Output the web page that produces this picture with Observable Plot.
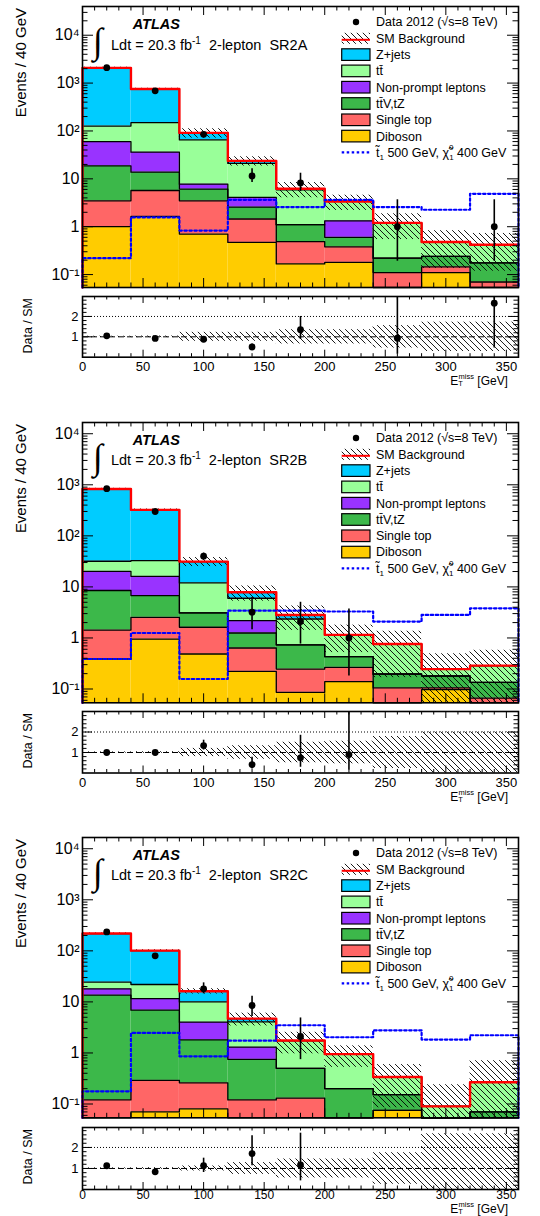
<!DOCTYPE html>
<html><head><meta charset="utf-8">
<script src="https://cdn.jsdelivr.net/npm/d3@7"></script>
<script src="https://cdn.jsdelivr.net/npm/@observablehq/plot@0.6"></script>
<style>
body{margin:0;background:#fff;}
#root{position:relative;width:540px;height:1216px;overflow:hidden;background:#fff;}
#root svg{overflow:visible}
</style></head><body><div id="root">
<svg width="0" height="0" style="position:absolute;left:0;top:0">
<defs><pattern id="hatch" patternUnits="userSpaceOnUse" width="6" height="6">
<path d="M-1,-1 L7,7 M-1,5 L1,7 M5,-1 L7,1" stroke="#000" stroke-width="0.9"/>
</pattern></defs></svg>
</div>
<script>
// ---------------- data ----------------
const edges = [0,40,80,120,160,200,240,280,320,360];
const processNames = ["Diboson","Single top","tt\u0304V,tZ","Non-prompt leptons","tt\u0304","Z+jets"]; // stack order bottom -> top
const processColors = ["#ffcc00","#ff6666","#3cb84a","#9933ff","#99ff99","#00ccff"];
const regionNames = ["SR2A","SR2B","SR2C"];
const xTickLabels = [0,50,100,150,200,250,300,350];
const yTickValues = [0.1,1,10,100,1000,10000];
const yTickLabels = ["10\u207B\u00B9","1","10","10\u00B2","10\u00B3","10\u2074"];
const ratioTickValues = [1,2];

// SR2A
const sr2aDiboson   = [1.0,1.64,0.70,0.47,0.167,0.18,0,0.11,0];
const sr2aSingleTop = [2.48,4.06,2.78,0.98,0.323,0.20,0.11,0.035,0.07];
const sr2aTtV       = [15.2,8.1,2.62,1.12,0.61,0.22,0.11,0.095,0.105];
const sr2aNonPrompt = [41,22.2,1.65,1.51,0,0.73,0,0,0];
const sr2aTtbar     = [67,113,57.3,16.9,4.8,2.04,0.98,0.24,0.245];
const sr2aZjets     = [1957,601,26,2.7,0.3,0,0,0,0];
const sr2aRelUnc    = [0.03,0.04,0.22,0.22,0.35,0.35,0.55,0.72,0.72];
const sr2aSignal    = [0.22,1.56,0.83,3.65,2.57,3.65,2.57,2.26,4.86];
const sr2aData      = [2100,690,85,11.5,8.2,0,1,0,1];
const sr2aDataLo    = [2055,664,76,8.4,5.4,null,0.19,null,0.19];
const sr2aDataHi    = [2145,716,94,16.2,13.1,null,3.65,null,3.65];
const sr2aRatio     = [1.05,0.92,0.88,0.5,1.35,null,0.93,null,2.65];
const sr2aRatioLo   = [1.02,0.88,0.78,0.38,0.87,null,0.15,null,0.45];
const sr2aRatioHi   = [1.08,0.96,0.98,0.65,2.0,null,4,null,4];

// SR2B
const sr2bDiboson   = [0.387,0.95,0.485,0.222,0.086,0.139,0,0.097,0];
const sr2bSingleTop = [1.04,1.59,1.135,0.414,0.16,0.127,0.105,0.008,0.066];
const sr2bTtV       = [7.07,4.21,1.47,0.614,0.484,0.164,0.092,0.075,0.069];
const sr2bNonPrompt = [11.7,9.35,0,0.93,0,0,0,0,0];
const sr2bTtbar     = [11.6,16.7,8.86,3.82,1.62,0.72,0.563,0.065,0.152];
const sr2bZjets     = [797,290,19.35,1.84,0.47,0,0,0,0];
const sr2bRelUnc    = [0.03,0.04,0.2,0.33,0.5,0.55,0.78,1.0,1.0];
const sr2bSignal    = [0.387,1.25,0.157,3.43,3.43,3.3,2.09,2.82,3.81];
const sr2bData      = [840,300,40,3.2,2.1,1.0,0,0,0];
const sr2bDataLo    = [811,283,34,1.45,0.76,0.18,null,null,null];
const sr2bDataHi    = [869,317,46,6.2,5.0,3.7,null,null,null];
const sr2bRatio     = [1.0,1.0,1.34,0.41,0.74,0.9,null,null,null];
const sr2bRatioLo   = [0.96,0.94,1.12,0.2,0.28,0.15,null,null,null];
const sr2bRatioHi   = [1.04,1.06,1.6,0.77,1.84,4,null,null,null];

// SR2C
const sr2cDiboson   = [0,0.07,0.08,0,0,0,0.075,0,0];
const sr2cSingleTop = [0.12,0.22,0.18,0.12,0.13,0,0,0,0];
const sr2cTtV       = [13.4,6.58,1.54,0.63,0.37,0.2,0.078,0,0.07];
const sr2cNonPrompt = [4.5,4.73,2.2,0.55,0,0,0,0,0];
const sr2cTtbar     = [6.3,10.3,6.0,2.75,1.25,0.75,0.185,0.09,0.196];
const sr2cZjets     = [194,79,6.2,0.65,0,0,0,0,0];
const sr2cRelUnc    = [0.03,0.04,0.12,0.28,0.45,0.45,0.75,1.65,1.65];
const sr2cSignal    = [0.177,2.47,0.86,1.74,3.49,2.03,2.78,1.83,2.22];
const sr2cData      = [235,80,18,8.5,2.1,0,0,0,0];
const sr2cDataLo    = [220,71,14.4,5.2,0.74,null,null,null,null];
const sr2cDataHi    = [250,89,23.6,12.9,4.85,null,null,null,null];
const sr2cRatio     = [1.13,0.84,1.13,1.71,1.17,null,null,null,null];
const sr2cRatioLo   = [1.05,0.75,0.81,1.13,0.41,null,null,null,null];
const sr2cRatioHi   = [1.21,0.93,1.49,2.56,2.68,null,null,null,null];

// ---------------- layout ----------------
const FONT = '"Liberation Sans", Arial, Helvetica, sans-serif';
const W = 540, ML = 82, MR = 22, FW = W - ML - MR;
const FLOOR = 1e-4;
const root = document.getElementById("root");

const panels = [
  {name: regionNames[0], comps: [sr2aDiboson,sr2aSingleTop,sr2aTtV,sr2aNonPrompt,sr2aTtbar,sr2aZjets],
   rel: sr2aRelUnc, signal: sr2aSignal, data: sr2aData, dataLo: sr2aDataLo, dataHi: sr2aDataHi,
   ratio: sr2aRatio, ratioLo: sr2aRatioLo, ratioHi: sr2aRatioHi,
   top: 6, bottom: 287, yExp: [-1.27, 4.6], rTop: 296.3, rBottom: 357, rMax: 2.98, pad: 5, tfs: 13},
  {name: regionNames[1], comps: [sr2bDiboson,sr2bSingleTop,sr2bTtV,sr2bNonPrompt,sr2bTtbar,sr2bZjets],
   rel: sr2bRelUnc, signal: sr2bSignal, data: sr2bData, dataLo: sr2bDataLo, dataHi: sr2bDataHi,
   ratio: sr2bRatio, ratioLo: sr2bRatioLo, ratioHi: sr2bRatioHi,
   top: 421.7, bottom: 702, yExp: [-1.27, 4.22], rTop: 710.5, rBottom: 772, rMax: 3.0, pad: 5, tfs: 13},
  {name: regionNames[2], comps: [sr2cDiboson,sr2cSingleTop,sr2cTtV,sr2cNonPrompt,sr2cTtbar,sr2cZjets],
   rel: sr2cRelUnc, signal: sr2cSignal, data: sr2cData, dataLo: sr2cDataLo, dataHi: sr2cDataHi,
   ratio: sr2cRatio, ratioLo: sr2cRatioLo, ratioHi: sr2cRatioHi,
   top: 836.7, bottom: 1117, yExp: [-1.27, 4.22], rTop: 1126.7, rBottom: 1188.7, rMax: 2.95, pad: 0.5, tfs: 12}
];

function place(el, top) {
  el.style.position = "absolute"; el.style.left = "0px"; el.style.top = top + "px";
  root.appendChild(el);
}
function yTickRules(vals, L) {
  return [Plot.ruleY(vals, {insetRight: FW - L, stroke: "black", strokeWidth: 1}),
          Plot.ruleY(vals, {insetLeft: FW - L, stroke: "black", strokeWidth: 1})];
}
function xTickRules(vals, L, fh) {
  return [Plot.ruleX(vals, {insetTop: fh - L, stroke: "black", strokeWidth: 1}),
          Plot.ruleX(vals, {insetBottom: fh - L, stroke: "black", strokeWidth: 1})];
}
const xMajor = xTickLabels;
const xMinor = d3.range(10, 360, 10).filter(v => v % 50 !== 0);

function drawMain(p) {
  const mt = 6, mb = 4, fh = p.bottom - p.top;
  const nb = edges.length - 1;
  const cum = new Array(nb).fill(0);
  const rects = [], outlines = [];
  p.comps.forEach((vals, k) => {
    vals.forEach((v, i) => {
      const lo = cum[i], hi = lo + v;
      if (v > 0) rects.push({x1: edges[i], x2: edges[i+1], y1: Math.max(lo, FLOOR), y2: hi, fill: processColors[k]});
      cum[i] = hi;
    });
    edges.forEach((e, j) => outlines.push({k, x: e, y: Math.max(cum[Math.min(j, nb-1)], FLOOR)}));
  });
  const total = cum.slice();
  const step = arr => edges.map((e, j) => ({x: e, y: Math.max(arr[Math.min(j, nb-1)], FLOOR)}));
  const totalLine = [{x: 0, y: FLOOR}, ...step(total)];
  const sigLine = [{x: 0, y: FLOOR}, ...step(p.signal), {x: 360, y: FLOOR}];
  const band = total.map((t, i) => ({x1: edges[i], x2: edges[i+1], y1: Math.max(t * (1 - p.rel[i]), FLOOR), y2: t * (1 + p.rel[i])}));
  const pts = p.data.map((v, i) => ({x: (edges[i] + edges[i+1]) / 2, y: v, lo: p.dataLo[i], hi: p.dataHi[i]})).filter(d => d.y > 0);
  const ymin = Math.pow(10, p.yExp[0]), ymax = Math.pow(10, p.yExp[1]);
  const yMinor = [];
  for (let d = 0.01; d < 1e5; d *= 10) for (let m = 2; m <= 9; m++) { const v = d * m; if (v > ymin && v < ymax) yMinor.push(v); }
  const yMajor = yTickValues.filter(v => v >= ymin && v <= ymax);
  const plot = Plot.plot({
    width: W, height: mt + fh + mb, marginLeft: ML, marginRight: MR, marginTop: mt, marginBottom: mb,
    x: {domain: [0, 360], axis: null},
    y: {type: "log", domain: [ymin, ymax], clamp: true},
    color: {type: "identity"},
    style: {fontFamily: FONT, fontSize: "16px", color: "black", background: "transparent", overflow: "visible"},
    marks: [
      Plot.rect(rects, {x1: "x1", x2: "x2", y1: "y1", y2: "y2", fill: "fill"}),
      Plot.rect(band, {x1: "x1", x2: "x2", y1: "y1", y2: "y2", fill: "url(#hatch)"}),
      Plot.line(outlines, {x: "x", y: "y", z: "k", curve: "step-after", stroke: "black", strokeWidth: 1.3}),
      Plot.line(totalLine, {x: "x", y: "y", curve: "step-after", stroke: "#ff0000", strokeWidth: 2.4}),
      Plot.line(sigLine, {x: "x", y: "y", curve: "step-after", stroke: "#0000ff", strokeWidth: 2.2, strokeDasharray: "2.5,2.5"}),
      Plot.ruleX(pts, {x: "x", y1: "lo", y2: "hi", stroke: "black", strokeWidth: 1.6}),
      Plot.dot(pts, {x: "x", y: "y", r: 3.4, fill: "black", stroke: "none"}),
      ...yTickRules(yMajor, 11), ...yTickRules(yMinor, 5.5),
      ...xTickRules(xMajor, 9, fh), ...xTickRules(xMinor, 4.5, fh),
      Plot.axisY({ticks: yMajor, tickFormat: v => yTickLabels[yTickValues.indexOf(v)], tickSize: 0, tickPadding: 3, fontSize: 16, label: null}),
      Plot.frame({stroke: "black", strokeWidth: 1.6})
    ]
  });
  place(plot, p.top - mt);
  annotate(plot, p, mt);
}

const legendLabels = ["Data 2012 (\u221As=8 TeV)", "SM Background", "Z+jets", "tt\u0304", "Non-prompt leptons", "tt\u0304V,tZ", "Single top", "Diboson"];
const legendBoxColors = [null, null, processColors[5], processColors[4], processColors[3], processColors[2], processColors[1], processColors[0]];

function annotate(svg, p, ft) {
  const g = d3.select(svg).append("g").attr("font-family", FONT).attr("fill", "black").attr("text-anchor", "start");
  g.append("text").attr("transform", `translate(26,${ft + 2}) rotate(-90)`).attr("text-anchor", "end")
    .attr("font-size", 15).text("Events / 40 GeV");
  g.append("text").attr("x", 93).attr("y", ft + 47).attr("font-size", 36).attr("font-family", '"DejaVu Sans"').attr("font-weight", "200").text("\u222B");
  g.append("text").attr("x", 132.7).attr("y", ft + 23).attr("font-size", 14.5).attr("font-weight", "bold").attr("font-style", "italic").text("ATLAS");
  const t = g.append("text").attr("x", 111).attr("y", ft + 43.5).attr("font-size", 14.5).style("white-space", "pre");
  t.append("tspan").text("Ldt = 20.3 fb");
  t.append("tspan").attr("dy", -6).attr("font-size", 10).text("-1");
  t.append("tspan").attr("dy", 6).text("  2-lepton  " + p.name);

  const lx = 341.7, lw = 28.3, tx = 376, y0 = ft + 16, dy = 16.3;
  const lg = g.append("g").attr("font-size", 12.5);
  legendLabels.forEach((lab, i) => {
    const y = y0 + i * dy;
    if (i === 0) {
      lg.append("circle").attr("cx", 356).attr("cy", y).attr("r", 3.2).attr("fill", "black");
    } else if (i === 1) {
      lg.append("rect").attr("x", lx).attr("y", y - 5.5).attr("width", lw).attr("height", 11).attr("fill", "url(#hatch)");
      lg.append("line").attr("x1", lx).attr("x2", lx + lw).attr("y1", y + 1.5).attr("y2", y + 1.5).attr("stroke", "#ff0000").attr("stroke-width", 2);
    } else {
      lg.append("rect").attr("x", lx).attr("y", y - 5.8).attr("width", lw).attr("height", 11.6).attr("fill", legendBoxColors[i]).attr("stroke", "black").attr("stroke-width", 1.2);
    }
    lg.append("text").attr("x", tx).attr("y", y + 4.4).text(lab);
  });
  const ys = y0 + 8 * dy;
  lg.append("line").attr("x1", lx).attr("x2", lx + lw).attr("y1", ys).attr("y2", ys).attr("stroke", "#0000ff").attr("stroke-width", 2.2).attr("stroke-dasharray", "2.5,2.5");
  const st = lg.append("text").attr("x", tx).attr("y", ys + 4.4).style("white-space", "pre");
  st.append("tspan").text("t\u0303");
  st.append("tspan").attr("dy", 3).attr("font-size", 8).text("1");
  st.append("tspan").attr("dy", -3).text(" 500 GeV, \u03C7\u0303");
  st.append("tspan").attr("dy", 3).attr("font-size", 8).text("1");
  st.append("tspan").attr("dy", -10).attr("dx", -4.5).attr("font-size", 8).text("0");
  st.append("tspan").attr("dy", 7).text(" 400 GeV");
}

function drawRatio(p) {
  const mt = 6, mb = 40, fh = p.rBottom - p.rTop;
  const band = p.rel.map((r, i) => ({x1: edges[i], x2: edges[i+1], y1: Math.max(1 - r, 0), y2: 1 + r}));
  const pts = p.ratio.map((v, i) => v == null ? null : ({x: (edges[i] + edges[i+1]) / 2, y: v, lo: p.ratioLo[i], hi: p.ratioHi[i]})).filter(Boolean);
  const yMinor = d3.range(0.2, p.rMax, 0.2).filter(v => Math.abs(v - 1) > 0.05 && Math.abs(v - 2) > 0.05);
  const plot = Plot.plot({
    width: W, height: mt + fh + mb, marginLeft: ML, marginRight: MR, marginTop: mt, marginBottom: mb,
    x: {domain: [0, 360]},
    y: {domain: [0, p.rMax], clamp: true},
    style: {fontFamily: FONT, fontSize: "13px", color: "black", background: "transparent", overflow: "visible"},
    marks: [
      Plot.rect(band, {x1: "x1", x2: "x2", y1: "y1", y2: "y2", fill: "url(#hatch)"}),
      Plot.ruleY([1], {stroke: "black", strokeWidth: 1, strokeDasharray: "6,3"}),
      Plot.ruleY([2], {stroke: "black", strokeWidth: 1, strokeDasharray: "1,2"}),
      Plot.ruleX(pts, {x: "x", y1: "lo", y2: "hi", stroke: "black", strokeWidth: 1.6}),
      Plot.dot(pts, {x: "x", y: "y", r: 3.4, fill: "black", stroke: "none"}),
      ...yTickRules(ratioTickValues, 10), ...yTickRules(yMinor, 4.5),
      ...xTickRules(xMajor, 7, fh), ...xTickRules(xMinor, 3.5, fh),
      Plot.axisX({ticks: xMajor, tickFormat: d => String(d), tickSize: 0, tickPadding: p.pad, fontSize: p.tfs, label: null}),
      Plot.axisY({ticks: ratioTickValues, tickFormat: d => String(d), tickSize: 0, tickPadding: 4, fontSize: 13, label: null}),
      Plot.frame({stroke: "black", strokeWidth: 1.6})
    ]
  });
  place(plot, p.rTop - mt);
  const g = d3.select(plot).append("g").attr("font-family", FONT).attr("fill", "black");
  g.append("text").attr("transform", `translate(32,${mt + 2}) rotate(-90)`).attr("text-anchor", "end")
    .attr("font-size", 12.5).text("Data / SM");
  const off = Math.min(28, 1212.5 - p.rBottom);
  const xt = g.append("text").attr("x", 508).attr("y", mt + fh + off).attr("text-anchor", "end").attr("font-size", 12).style("white-space", "pre");
  xt.append("tspan").text("E");
  xt.append("tspan").attr("dy", 1.5).attr("font-size", 7.5).text("T");
  xt.append("tspan").attr("dy", -7).attr("dx", -4.3).attr("font-size", 7.5).text("miss");
  xt.append("tspan").attr("dy", 5.5).text(" [GeV]");
}

panels.forEach(p => { drawMain(p); drawRatio(p); });
</script></body></html>
